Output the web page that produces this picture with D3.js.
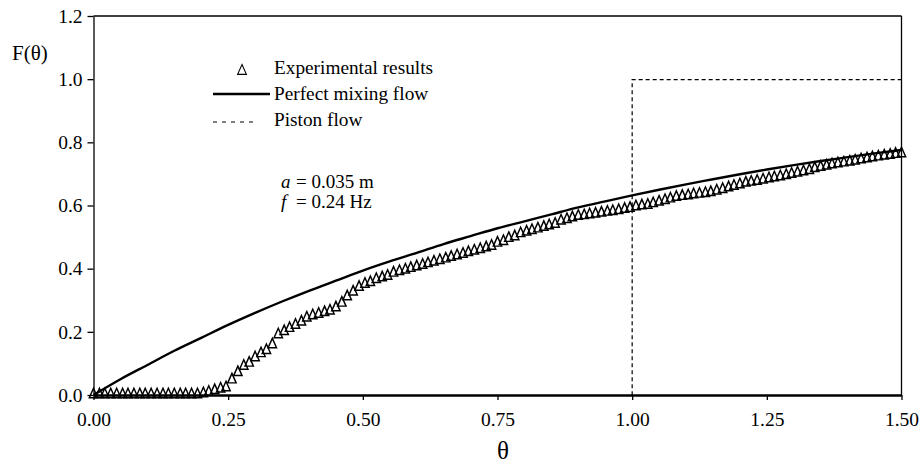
<!DOCTYPE html>
<html>
<head>
<meta charset="utf-8">
<script src="https://cdn.jsdelivr.net/npm/d3@7"></script>
<style>
  body { margin: 0; background: #fff; }
  text { font-family: "Liberation Serif", "Times New Roman", serif; fill: #000; }
</style>
</head>
<body>
<script>
// experimental results (triangles)
const expTheta = [0, .011, .021, .032, .043, .054, .064, .075, .086, .096, .107, .118, .129, .139, .150, .161, .171, .182, .193, .204,
  .214, .225, .236, .246, .257, .268, .279, .289, .300, .311, .321, .332, .343, .354, .364, .375, .386, .396, .407, .418,
  .429, .439, .450, .461, .471, .482, .493, .504, .514, .525, .536, .546, .557, .568, .579, .589, .600, .611, .621, .632,
  .643, .654, .664, .675, .686, .696, .707, .718, .729, .739, .750, .761, .771, .782, .793, .804, .814, .825, .836, .846,
  .857, .868, .879, .889, .900, .911, .921, .932, .943, .954, .964, .975, .986, .996, 1.007, 1.018, 1.029, 1.039, 1.050, 1.061,
  1.071, 1.082, 1.093, 1.104, 1.114, 1.125, 1.136, 1.146, 1.157, 1.168, 1.179, 1.189, 1.200, 1.211, 1.221, 1.232, 1.243, 1.254,
  1.264, 1.275, 1.286, 1.296, 1.307, 1.318, 1.329, 1.339, 1.350, 1.361, 1.371, 1.382, 1.393, 1.404, 1.414, 1.425, 1.436, 1.446,
  1.457, 1.468, 1.479, 1.489, 1.500];
const expF = [0, 0, 0, 0, 0, 0, 0, 0, 0, 0, 0, 0, 0, 0, 0, 0, 0, 0, 0, .003,
  .008, .013, .018, .022, .047, .07, .09, .10, .117, .13, .14, .158, .19, .20, .21, .22, .23, .243, .25, .255,
  .26, .265, .275, .29, .31, .325, .34, .35, .355, .365, .37, .375, .385, .39, .395, .40, .405, .41, .415, .42,
  .425, .43, .435, .44, .445, .45, .455, .46, .465, .47, .48, .485, .495, .50, .51, .515, .52, .525, .53, .535,
  .54, .55, .555, .56, .565, .567, .57, .572, .575, .578, .58, .583, .587, .59, .595, .598, .60, .605, .61, .615,
  .62, .625, .628, .63, .633, .635, .637, .64, .645, .65, .655, .66, .665, .67, .673, .676, .68, .684,
  .687, .69, .694, .698, .702, .706, .71, .716, .72, .724, .728, .731, .734, .737, .74, .744, .747, .75,
  .753, .756, .758, .761, .763];

// perfect mixing flow (solid line)
const mixTheta = [0, .05, .10, .15, .20, .25, .30, .35, .40, .45, .50, .55, .60, .65, .70, .75, .80, .85, .90, .95,
  1.00, 1.05, 1.10, 1.15, 1.20, 1.25, 1.30, 1.35, 1.40, 1.45, 1.50];
const mixF = [0, .05, .095, .14, .181, .222, .26, .296, .33, .362, .394, .423, .45, .478, .503, .528, .55, .572, .594, .613,
  .632, .65, .667, .683, .699, .714, .728, .741, .753, .765, .776];

// piston flow (dashed line)
const pistonTheta = [0, 1, 1, 1.5];
const pistonF = [0, 0, 1, 1];

const xTicks = [0, 0.25, 0.5, 0.75, 1, 1.25, 1.5];
const yTicks = [0, 0.2, 0.4, 0.6, 0.8, 1.0, 1.2];

const legendLabels = ["Experimental results", "Perfect mixing flow", "Piston flow"];

const canvasW = 922;
const canvasH = 466;

const xScale = d3.scaleLinear().domain([0, 1.5]).range([93.5, 901.5]);
const yScale = d3.scaleLinear().domain([0, 1.2]).range([395, 16]);

const svg = d3.select("body")
  .append("svg")
  .attr("width", canvasW)
  .attr("height", canvasH);

// triangle marker, a bit taller than wide
const triPath = s => "M0," + (-5 * s) + "L" + (4 * s) + "," + (4 * s) + "L" + (-4 * s) + "," + (4 * s) + "Z";

// frame (top and right)
svg.append("line")
  .attr("x1", xScale(0)).attr("x2", xScale(1.5))
  .attr("y1", yScale(1.2)).attr("y2", yScale(1.2))
  .attr("stroke", "#000").attr("stroke-width", 1.3);
svg.append("line")
  .attr("x1", xScale(1.5)).attr("x2", xScale(1.5))
  .attr("y1", yScale(1.2)).attr("y2", yScale(0))
  .attr("stroke", "#000").attr("stroke-width", 1.3);

// piston flow (half pixel down so the zero part lies inside the axis line)
const piston = pistonTheta.map((t, i) => [t, pistonF[i]]);
svg.append("path")
  .datum(piston)
  .attr("transform", "translate(0,0.5)")
  .attr("fill", "none")
  .attr("stroke", "#000")
  .attr("stroke-width", 1.2)
  .attr("stroke-dasharray", "4,3")
  .attr("d", d3.line().x(d => xScale(d[0])).y(d => yScale(d[1])));

// perfect mixing
const mix = mixTheta.map((t, i) => [t, mixF[i]]);
svg.append("path")
  .datum(mix)
  .attr("fill", "none")
  .attr("stroke", "#000")
  .attr("stroke-width", 2.4)
  .attr("d", d3.line().curve(d3.curveMonotoneX).x(d => xScale(d[0])).y(d => yScale(d[1])));

// experimental triangles
const exp = expTheta.map((t, i) => [t, expF[i]]);
svg.selectAll(".pt")
  .data(exp)
  .enter()
  .append("path")
  .attr("class", "pt")
  .attr("d", triPath(1.05))
  .attr("transform", d => "translate(" + xScale(d[0]) + "," + (yScale(d[1]) - 1.5) + ")")
  .attr("fill", "none")
  .attr("stroke", "#000")
  .attr("stroke-width", 1.45);

// axes (drawn last so the zero part of the piston line sits under the axis)
const xAxis = svg.append("g")
  .attr("transform", "translate(0," + yScale(0) + ")")
  .call(d3.axisBottom(xScale).tickValues(xTicks).tickFormat(d3.format(".2f"))
    .tickSize(5).tickSizeOuter(0).tickPadding(12));
xAxis.select(".domain").attr("stroke-width", 2.6);
xAxis.selectAll(".tick line").attr("stroke-width", 1.3);
xAxis.selectAll("text").attr("font-size", "19.5px").attr("font-family", null);

const yAxis = svg.append("g")
  .attr("transform", "translate(" + xScale(0) + ",0)")
  .call(d3.axisLeft(yScale).tickValues(yTicks).tickFormat(d3.format(".1f"))
    .tickSize(6).tickSizeOuter(0).tickPadding(5));
yAxis.select(".domain").attr("stroke-width", 1.3);
yAxis.selectAll(".tick line").attr("stroke-width", 1.3);
yAxis.selectAll("text").attr("font-size", "19.5px").attr("font-family", null);

// legend
const legend = svg.append("g");
legend.append("path")
  .attr("d", triPath(1.1))
  .attr("transform", "translate(242,70)")
  .attr("fill", "none").attr("stroke", "#000").attr("stroke-width", 1.1);
legend.append("line")
  .attr("x1", 213).attr("x2", 270).attr("y1", 94).attr("y2", 94)
  .attr("stroke", "#000").attr("stroke-width", 2.4);
legend.append("line")
  .attr("x1", 213).attr("x2", 258).attr("y1", 122).attr("y2", 122)
  .attr("stroke", "#000").attr("stroke-width", 1.2).attr("stroke-dasharray", "4,5");
legend.selectAll(".lt")
  .data(legendLabels)
  .enter()
  .append("text")
  .attr("class", "lt")
  .attr("x", 274)
  .attr("y", (d, i) => [74, 100, 126][i])
  .attr("font-size", "19.3px")
  .text(d => d);

// parameters
const params = svg.append("g").attr("font-size", "19px");
const p1 = params.append("text").attr("x", 281).attr("y", 188);
p1.append("tspan").attr("font-style", "italic").text("a");
p1.append("tspan").attr("x", 296).text("= 0.035 m");
const p2 = params.append("text").attr("x", 281).attr("y", 208);
p2.append("tspan").attr("font-style", "italic").text("f");
p2.append("tspan").attr("x", 296).text("= 0.24 Hz");

// axis titles
svg.append("text")
  .attr("x", 12).attr("y", 60)
  .attr("font-size", "21px")
  .text("F(θ)");
svg.append("text")
  .attr("x", 503).attr("y", 459)
  .attr("text-anchor", "middle")
  .attr("font-size", "25px")
  .text("θ");
</script>
</body>
</html>
